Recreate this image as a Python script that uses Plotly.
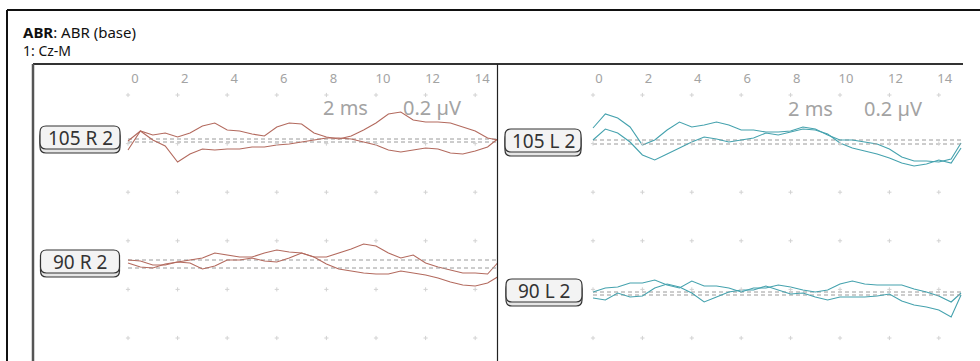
import plotly.graph_objects as go

# ---------------- data ----------------
T_MS = [0, 0.5, 1, 1.5, 2, 2.5, 3, 3.5, 4, 4.5, 5, 5.5, 6, 6.5, 7, 7.5, 8, 8.5, 9, 9.5,
        10, 10.5, 11, 11.5, 12, 12.5, 13, 13.5, 14, 14.5, 14.9]
TICKS_MS = [0, 2, 4, 6, 8, 10, 12, 14]
GRID_ROWS = [0, 1, 2, 3, 4, 5]

# amplitudes (µV) relative to each trace baseline
R105_A = [-0.044, 0.032, 0.016, 0.024, 0.008, 0.024, 0.052, 0.064, 0.036, 0.032, 0.020, 0.012, 0.048,
          0.064, 0.060, 0.024, 0.008, 0.000, 0.012, 0.036, 0.064, 0.100, 0.108, 0.076, 0.068, 0.068,
          0.064, 0.048, 0.032, 0.004, -0.004]
R105_B = [0.004, 0.044, 0.008, -0.016, -0.080, -0.048, -0.028, -0.032, -0.028, -0.028, -0.020, -0.020,
          -0.012, -0.008, 0.000, 0.008, 0.016, 0.016, 0.012, 0.000, -0.012, -0.032, -0.040, -0.032,
          -0.024, -0.028, -0.044, -0.048, -0.036, -0.020, 0.012]
R90_A = [0.000, -0.004, -0.020, -0.020, -0.008, 0.000, 0.008, 0.028, 0.020, 0.012, 0.012, 0.028, 0.040,
         0.032, 0.028, 0.012, 0.012, 0.028, 0.044, 0.064, 0.056, 0.028, 0.008, 0.020, -0.012, -0.028,
         -0.040, -0.052, -0.052, -0.056, -0.012]
R90_B = [0.020, 0.004, 0.000, 0.016, 0.024, 0.020, -0.004, 0.008, 0.032, 0.032, 0.040, 0.028, 0.024,
         0.040, 0.060, 0.044, 0.016, -0.004, -0.012, -0.020, -0.024, -0.024, -0.012, -0.020, -0.028,
         -0.040, -0.056, -0.068, -0.072, -0.060, -0.036]
L105_A = [0.048, 0.104, 0.088, 0.052, -0.020, 0.000, 0.040, 0.072, 0.052, 0.060, 0.072, 0.060, 0.040,
          0.040, 0.032, 0.032, 0.036, 0.052, 0.044, 0.020, 0.000, 0.000, -0.008, -0.016, -0.036, -0.068,
          -0.084, -0.084, -0.088, -0.076, -0.012]
L105_B = [0.016, 0.060, 0.044, 0.008, -0.044, -0.064, -0.040, -0.016, 0.008, 0.028, 0.020, 0.008, 0.016,
          0.024, 0.044, 0.036, 0.048, 0.060, 0.056, 0.040, 0.004, -0.016, -0.028, -0.040, -0.056, -0.076,
          -0.088, -0.080, -0.064, -0.076, -0.016]
L90_A = [0.000, 0.016, 0.020, 0.036, 0.036, 0.048, 0.028, 0.016, 0.044, 0.024, 0.024, 0.016, 0.000,
         0.016, 0.016, 0.028, 0.020, 0.008, 0.000, 0.008, 0.032, 0.044, 0.032, 0.028, 0.028, 0.028,
         0.012, 0.000, -0.016, -0.040, -0.004]
L90_B = [-0.012, -0.020, 0.008, -0.008, -0.004, 0.028, 0.044, 0.032, 0.008, -0.028, -0.008, 0.012, 0.020,
         0.020, 0.036, 0.020, 0.004, 0.008, -0.008, -0.020, -0.008, -0.008, -0.008, -0.004, 0.004, -0.024,
         -0.040, -0.048, -0.060, -0.088, 0.000]

LABELS = ["105 R 2", "90 R 2", "105 L 2", "90 L 2"]

# ---------------- layout constants ----------------
W, H = 980, 361
PX_PER_UV = 250.0
GRID_PX = 48.6
GRID_TOP_PX = 95
LEFT_X0, LEFT_PPM = 128, 24.8
RIGHT_X0, RIGHT_PPM = 593, 24.7
RED = "#b36a5e"
TEAL = "#45a2ae"
GRAYTXT = "#a3a3a3"
FONT = "Noto Sans"


def px(x):
    return x / W


def py(y):
    return 1 - y / H


def yrange(base_px):
    return [(base_px - H) / PX_PER_UV, base_px / PX_PER_UV]


def xrange(x0, ppm):
    return [-x0 / ppm, (W - x0) / ppm]


# series: (values, xaxis, yaxis id, baseline px, colour)
SERIES = [
    (R105_A, "x", 1, 139, RED),
    (R105_B, "x", 2, 142, RED),
    (R90_A, "x", 3, 260, RED),
    (R90_B, "x", 4, 268, RED),
    (L105_A, "x2", 5, 140, TEAL),
    (L105_B, "x2", 6, 144, TEAL),
    (L90_A, "x2", 7, 292, TEAL),
    (L90_B, "x2", 8, 295, TEAL),
]

fig = go.Figure()

# grid dots
for xa in ["x", "x2"]:
    gx, gy = [], []
    for r in GRID_ROWS:
        for t in TICKS_MS:
            gx.append(t)
            gy.append(r)
    fig.add_trace(go.Scatter(x=gx, y=gy, xaxis=xa, yaxis="y9", mode="markers",
                             marker=dict(symbol="cross-thin", size=3,
                                         line=dict(width=1, color="#d2d2d2")),
                             hoverinfo="skip", showlegend=False))

# baselines + waveforms
for vals, xa, yi, base, col in SERIES:
    ya = "y" if yi == 1 else f"y{yi}"
    fig.add_trace(go.Scatter(x=[T_MS[0], T_MS[-1]], y=[0, 0], xaxis=xa, yaxis=ya, mode="lines",
                             line=dict(color="#9a9a9a", width=1, dash="4px,3px"),
                             hoverinfo="skip", showlegend=False))
for vals, xa, yi, base, col in SERIES:
    ya = "y" if yi == 1 else f"y{yi}"
    fig.add_trace(go.Scatter(x=T_MS, y=vals, xaxis=xa, yaxis=ya, mode="lines",
                             line=dict(color=col, width=1.1),
                             hoverinfo="skip", showlegend=False))

layout = dict(
    width=W, height=H, autosize=False,
    margin=dict(l=0, r=0, t=0, b=0, pad=0),
    paper_bgcolor="white", plot_bgcolor="white",
    showlegend=False,
)
axis_common = dict(showgrid=False, zeroline=False, showline=False, fixedrange=True)
TICK_POS = py(86)
layout["xaxis"] = dict(range=xrange(LEFT_X0, LEFT_PPM), domain=[0, 1], side="top", anchor="free",
                       position=TICK_POS, tickvals=TICKS_MS, ticks="", ticklabelshift=7,
                       tickfont=dict(family=FONT, size=13, color=GRAYTXT), **axis_common)
layout["xaxis2"] = dict(range=xrange(RIGHT_X0, RIGHT_PPM), domain=[0, 1], side="top", anchor="free",
                        overlaying="x", position=TICK_POS, tickvals=TICKS_MS, ticks="",
                        ticklabelshift=6,
                        tickfont=dict(family=FONT, size=13, color=GRAYTXT), **axis_common)
for vals, xa, yi, base, col in SERIES:
    key = "yaxis" if yi == 1 else f"yaxis{yi}"
    d = dict(range=yrange(base), domain=[0, 1], visible=False, **axis_common)
    if yi != 1:
        d["overlaying"] = "y"
    layout[key] = d
layout["yaxis9"] = dict(range=[(H - GRID_TOP_PX) / GRID_PX, -GRID_TOP_PX / GRID_PX], domain=[0, 1],
                        visible=False, overlaying="y", **axis_common)

shapes = []
# outer frame
shapes.append(dict(type="line", xref="paper", yref="paper", x0=px(7), x1=px(981), y0=py(10), y1=py(10),
                   line=dict(color="#111", width=2)))
shapes.append(dict(type="line", xref="paper", yref="paper", x0=px(7), x1=px(7), y0=py(10), y1=py(362),
                   line=dict(color="#111", width=2)))
# inner frame
shapes.append(dict(type="line", xref="paper", yref="paper", x0=px(33), x1=px(963), y0=py(64), y1=py(64),
                   line=dict(color="#333", width=2)))
shapes.append(dict(type="line", xref="paper", yref="paper", x0=px(33), x1=px(33), y0=py(64), y1=py(362),
                   line=dict(color="#555", width=2.5)))
shapes.append(dict(type="line", xref="paper", yref="paper", x0=px(497.5), x1=px(497.5), y0=py(64),
                   y1=py(362), line=dict(color="#222", width=1.2)))


def rbox(x0, y0, x1, y1, r):
    pts = [("M", x0 + r, y0), ("L", x1 - r, y0), ("Q", x1, y0, x1, y0 + r), ("L", x1, y1 - r),
           ("Q", x1, y1, x1 - r, y1), ("L", x0 + r, y1), ("Q", x0, y1, x0, y1 - r), ("L", x0, y0 + r),
           ("Q", x0, y0, x0 + r, y0)]
    s = ""
    for p in pts:
        if p[0] == "Q":
            s += f"Q{px(p[1]):.5f},{py(p[2]):.5f} {px(p[3]):.5f},{py(p[4]):.5f} "
        else:
            s += f"{p[0]}{px(p[1]):.5f},{py(p[2]):.5f} "
    return s + "Z"


# label boxes: (label, centre x px, centre y px, width)
BOXES = [(LABELS[0], 80, 138, 80), (LABELS[1], 80, 262, 79),
         (LABELS[2], 543, 141, 76), (LABELS[3], 544, 291, 76)]
annotations = []
for lab, cx, cy, w in BOXES:
    x0, x1 = cx - w / 2, cx + w / 2
    y0, y1 = cy - 12, cy + 11
    shapes.append(dict(type="path", xref="paper", yref="paper", path=rbox(x0, y0 + 4, x1, y1 + 4, 6),
                       fillcolor="#e6e6e6", line=dict(color="#333", width=1.2)))
    shapes.append(dict(type="path", xref="paper", yref="paper", path=rbox(x0, y0, x1, y1, 6),
                       fillcolor="#f3f3f3", line=dict(color="#333", width=1.2)))
    annotations.append(dict(xref="paper", yref="paper", x=px(cx), y=py(cy), text=lab, showarrow=False,
                            xanchor="center", yanchor="middle",
                            font=dict(family=FONT, size=19, color="#333")))

# scale texts
for cx, cy, txt in [(345, 107, "2 ms"), (432, 107, "0.2 µV"), (810, 108, "2 ms"), (893, 108, "0.2 µV")]:
    annotations.append(dict(xref="paper", yref="paper", x=px(cx), y=py(cy), text=txt, showarrow=False,
                            xanchor="center", yanchor="middle",
                            font=dict(family=FONT, size=20, color=GRAYTXT)))

# header
annotations.append(dict(xref="paper", yref="paper", x=px(21), y=py(32), text="<b>ABR</b>: ABR (base)",
                        showarrow=False, xanchor="left", yanchor="middle",
                        font=dict(family=FONT, size=15, color="#111")))
annotations.append(dict(xref="paper", yref="paper", x=px(21), y=py(51), text="1: Cz-M",
                        showarrow=False, xanchor="left", yanchor="middle",
                        font=dict(family=FONT, size=14, color="#111")))

layout["shapes"] = shapes
layout["annotations"] = annotations
fig.update_layout(**layout)

fig.write_html("out.html", config={"displayModeBar": False, "staticPlot": True},
               post_script="document.body.style.margin='0px';")
